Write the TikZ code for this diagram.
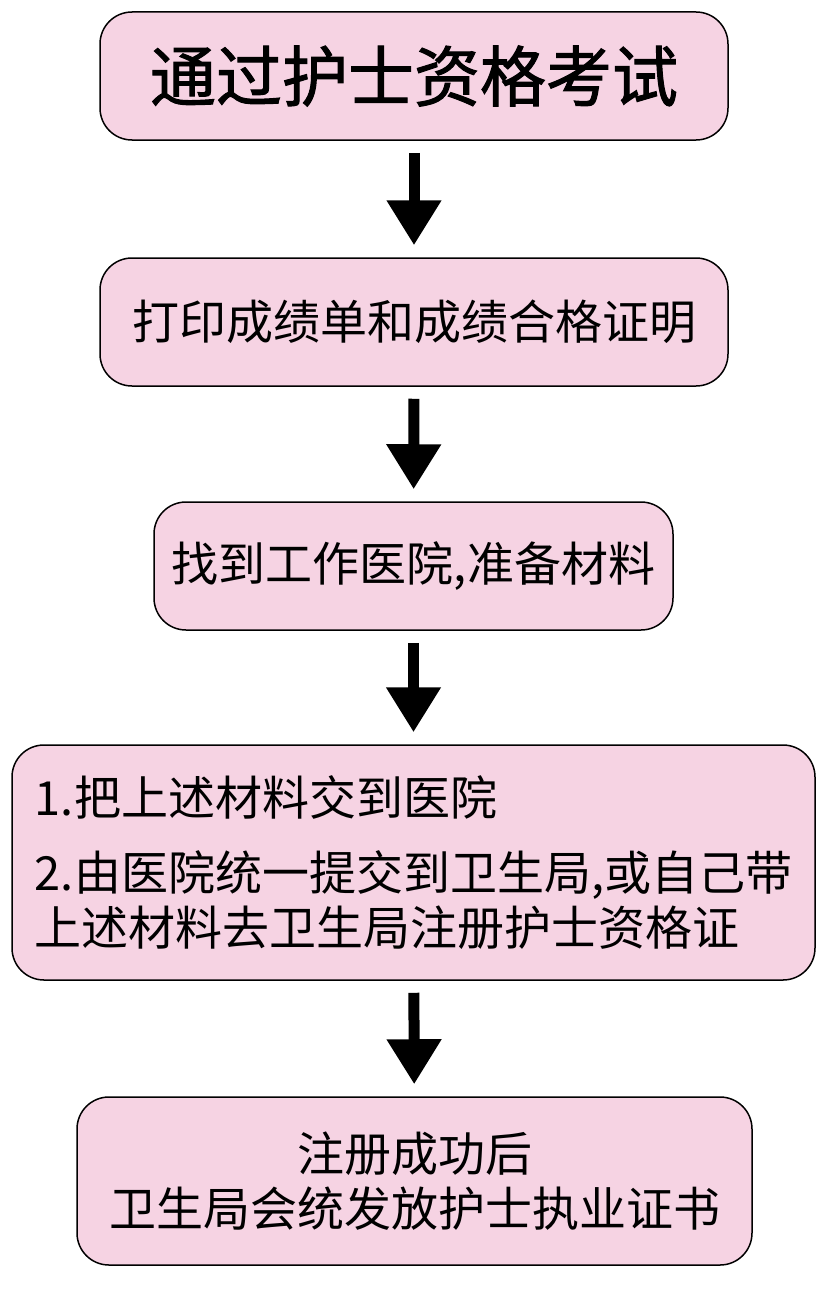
\documentclass[tikz,border=0pt]{standalone}
\usepackage{fontspec}
\newfontfamily\cjk{Noto Sans CJK SC}
\newfontfamily\cjktitle[FakeBold=1.5]{Noto Sans CJK SC}
\usetikzlibrary{arrows.meta}
\definecolor{boxpink}{RGB}{246,211,227}
\tikzset{
    stepbox/.style={draw=black, line width=1.5pt, fill=boxpink, rounded corners=32pt,
        inner sep=0pt, font=\cjk\fontsize{47}{55}\selectfont},
    flowarrow/.style={-{Triangle[width=52pt,length=45pt]}, line width=11pt,
        shorten <=12pt, shorten >=12pt}
}
\begin{document}
\begin{tikzpicture}[x=1pt,y=-1pt]
            \useasboundingbox (0,0) rectangle (830,1298);
            % the five steps
            \node[stepbox, minimum width=628pt, minimum height=128pt] (exam) at (414,76)
                {\cjktitle\fontsize{66}{70}\selectfont 通过护士资格考试};
            \node[stepbox, minimum width=628pt, minimum height=128pt] (print) at (414,322)
                {打印成绩单和成绩合格证明};
            \node[stepbox, minimum width=519pt, minimum height=128pt] (hospital) at (413.5,566)
                {找到工作医院,准备材料};
            \node[stepbox, minimum width=803pt, minimum height=235pt, align=left] (submit) at (413.5,862.5)
                {1.把上述材料交到医院\\[20pt]2.由医院统一提交到卫生局,或自己带\\上述材料去卫生局注册护士资格证};
            \node[stepbox, minimum width=675pt, minimum height=168pt, align=center] (licence) at (414.5,1181)
                {注册成功后\\卫生局会统发放护士执业证书};
            % arrows between the steps
            \draw[flowarrow] (exam) -- (print);
            \draw[flowarrow] (print) -- (hospital);
            \draw[flowarrow] (hospital) -- (submit);
            \draw[flowarrow] (submit) -- (licence);
        \end{tikzpicture}
\end{document}
